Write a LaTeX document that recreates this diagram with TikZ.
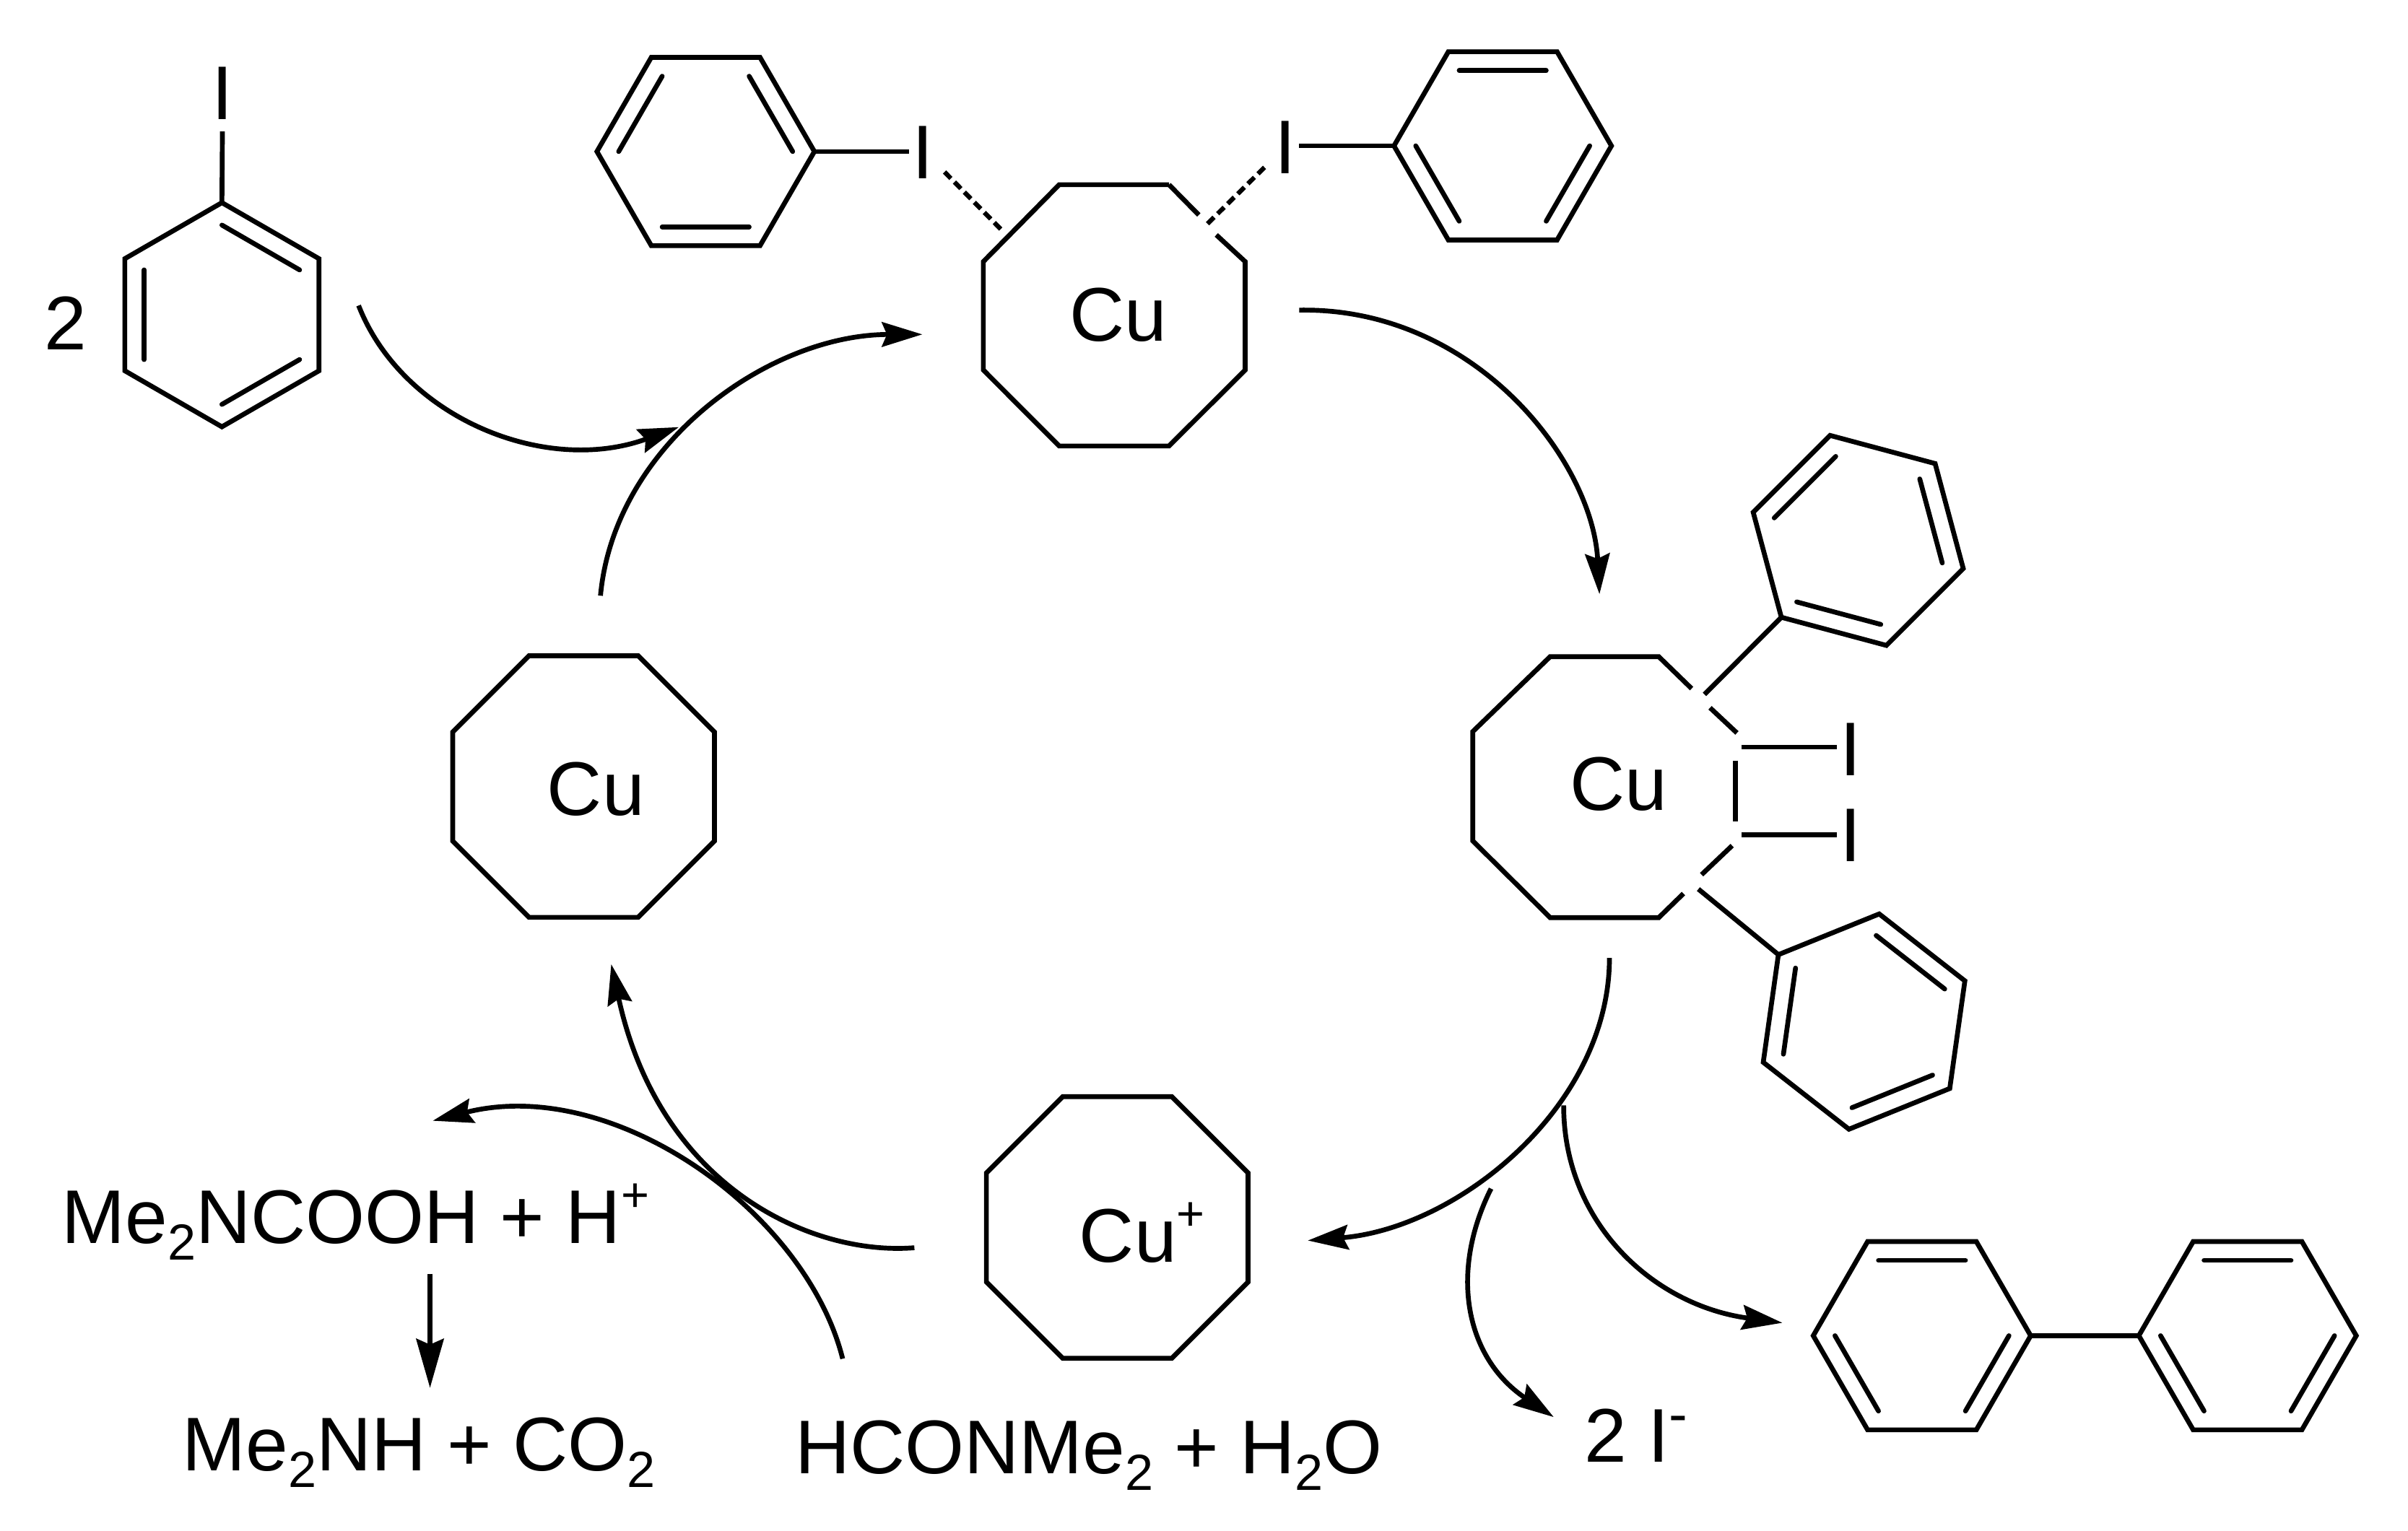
\documentclass[tikz,border=0pt]{standalone}
\usepackage{fontspec}
\setmainfont{Liberation Sans}
\usetikzlibrary{calc, arrows.meta}

\tikzset{
	bond/.style = {line width = 1.9pt, line join = miter},
	hidden/.style = {line width = 1.8pt, dash pattern = on 3.6pt off 2pt},
	flow/.style = {line width = 1.9pt, -{Stealth[length = 0.56cm, width = 0.34cm, inset = 0.07cm]}},
	chem/.style = {inner sep = 0pt, font = \fontsize{30}{36}\selectfont},
	iod/.style = {chem, inner sep = 1pt},
}

\begin{document}
\begin{tikzpicture}[x = 0.02127cm, y = -0.02127cm]
	\def\Rb{70.8};
	\def\lowtwo{\raisebox{-6.5pt}{\fontsize{20}{20}\selectfont 2}}
	\def\upchg#1{\raisebox{12.5pt}{\fontsize{19}{19}\selectfont #1}}
	\def\benzene#1#2#3{
		\draw [bond] ($(#1)+(#2:\Rb)$) coordinate (#1-1)
			-- ($(#1)+(#2+60:\Rb)$) coordinate (#1-2)
			-- ($(#1)+(#2+120:\Rb)$) coordinate (#1-3)
			-- ($(#1)+(#2+180:\Rb)$) coordinate (#1-4)
			-- ($(#1)+(#2+240:\Rb)$) coordinate (#1-5)
			-- ($(#1)+(#2+300:\Rb)$) coordinate (#1-6)
			-- cycle;
		\foreach \a in {#3}
			\draw [bond, line cap = round] ($(#1)+(\a:0.8*\Rb)$) -- ($(#1)+(\a+60:0.8*\Rb)$);
	}
	\def\octagon#1{
		\draw [bond] ($(#1)+(-35.5,-85.2)$) -- ($(#1)+(35.5,-85.2)$) -- ($(#1)+(85.2,-35.5)$)
			-- ($(#1)+(85.2,35.5)$) -- ($(#1)+(35.5,85.2)$) -- ($(#1)+(-35.5,85.2)$)
			-- ($(#1)+(-85.2,35.5)$) -- ($(#1)+(-85.2,-35.5)$) -- cycle;
	}

	\useasboundingbox (0,0) rectangle (1568,997.2);

	\coordinate (phA) at (144.5,205);
	\coordinate (phB) at (459.5,98.7);
	\coordinate (phC) at (978.5,95);
	\coordinate (phD) at (1210,352);
	\coordinate (phE) at (1213.8,665.4);
	\coordinate (phF) at (1251.5,870);
	\coordinate (phG) at (1463.5,870);
	\coordinate (octL) at (380,512.3);
	\coordinate (octB) at (727.5,799.5);

	\def\Rb{73};
	\benzene{phA}{30}{30,150,270}
	\def\Rb{70.8};
	\benzene{phB}{0}{60,180,300}
	\benzene{phC}{0}{0,120,240}
	\benzene{phD}{15}{75,195,315}
	\benzene{phE}{-22}{38,158,278}
	\benzene{phF}{0}{0,120,240}
	\benzene{phG}{0}{0,120,240}
	\octagon{octL}
	\octagon{octB}

	\draw [bond] (761.2,120.3) -- (689.7,120.3) -- (640.3,170.4) -- (640.3,241) -- (689.7,290.5)
		-- (761.2,290.5) -- (810.8,241) -- (810.8,170.4) -- (792,153);
	\draw [bond] (761.2,120.3) -- (780.6,140);
	\draw [bond] (1101.5,448.5) -- (1080.1,427.7) -- (1009.4,427.7) -- (959,476.5) -- (959,547.7)
		-- (1009.4,597.7) -- (1080.1,597.7) -- (1096.2,582);
	\draw [bond] (1113.5,461) -- (1131,477.4);
	\draw [bond] (1130,495.4) -- (1130,535);
	\draw [bond] (1127.9,550.8) -- (1108,569.7);

	\node [iod, anchor = base] (iA) at (145,78) {I};
	\node [iod, anchor = base] (iB) at (601,116.5) {I};
	\node [iod, anchor = base] (iC) at (837,113.3) {I};
	\node [iod, anchor = base] (iD) at (1205,505) {I};
	\node [iod, anchor = base] (iE) at (1205,561) {I};

	\coordinate (hdB) at (615,112);
	\coordinate (hdBe) at (652.4,150);
	\coordinate (hdC) at (823.4,109);
	\coordinate (hdCe) at (786,146);
	\coordinate (bdD) at (1109.9,452.3);
	\coordinate (bdE) at (1105.9,579.1);
	\coordinate (bdI) at (1134,486.6);
	\coordinate (bdJ) at (1134,543.6);

	\draw [bond, shorten > = 0.12cm] (phA-5) -- (iA);
	\draw [bond] (phB-1) -- (phB-1 -| iB.west);
	\draw [bond] (phC-4) -- (phC-4 -| iC.east);
	\draw [hidden] (hdB) -- (hdBe);
	\draw [hidden] (hdC) -- (hdCe);
	\draw [bond] (bdD) -- (phD-3);
	\draw [bond] (bdE) -- (phE-5);
	\draw [bond] (bdI) -- (bdI -| iD.west);
	\draw [bond] (bdJ) -- (bdJ -| iE.west);
	\draw [bond] (phF-1) -- (phG-4);

	\node [chem, anchor = base west] (two) at (28.5,228) {2};
	\node [chem, anchor = base west] (cuT) at (696,222) {Cu};
	\node [chem, anchor = base west] (cuL) at (356,531) {Cu};
	\node [chem, anchor = base west] (cuR) at (1022,527.6) {Cu};
	\node [chem, anchor = base west] (cuB) at (702.5,822) {Cu\upchg{+}};
	\node [chem, anchor = base west] (acid) at (40,810) {Me\lowtwo NCOOH + H\upchg{+}};
	\node [chem, anchor = base west] (amine) at (118.5,958) {Me\lowtwo NH + CO\lowtwo};
	\node [chem, anchor = base west] (dmf) at (517.5,960) {HCONMe\lowtwo{} + H\lowtwo O};
	\node [chem, anchor = base west] (iodide) at (1031.5,952.5) {2 I\raisebox{11.6pt}{\fontsize{22}{22}\selectfont -}};

	\coordinate (fwA) at (233.5,199);
	\coordinate (fwAe) at (442,278.2);
	\coordinate (fwB) at (391,388);
	\coordinate (fwBe) at (600.6,217.8);
	\coordinate (fwC) at (846,202);
	\coordinate (fwCe) at (1041.5,387);
	\coordinate (fwD) at (1048,624);
	\coordinate (fwDe) at (851.6,808);
	\coordinate (fwE) at (1018.2,720);
	\coordinate (fwEe) at (1160.6,861.6);
	\coordinate (fwF) at (970.9,774.2);
	\coordinate (fwFe) at (1011.7,923);
	\coordinate (fwG) at (595.4,812.7);
	\coordinate (fwGe) at (398,628);
	\coordinate (fwH) at (548.7,885);
	\coordinate (fwHe) at (281.8,730);
	\coordinate (fwI) at (280,829.6);
	\coordinate (fwIe) at (280,904);

	\draw [flow] (fwA) .. controls (262,272) and (355,310) .. (fwAe);
	\draw [flow] (fwB) .. controls (400,290) and (500,218) .. (fwBe);
	\draw [flow] (fwC) .. controls (960,200) and (1037,300) .. (fwCe);
	\draw [flow] (fwD) .. controls (1048,720) and (950,800) .. (fwDe);
	\draw [flow] (fwE) .. controls (1018,795) and (1075,850) .. (fwEe);
	\draw [flow] (fwF) .. controls (943,830) and (955,885) .. (fwFe);
	\draw [flow] (fwG) .. controls (530,818) and (430,775) .. (fwGe);
	\draw [flow] (fwH) .. controls (525,790) and (400,700) .. (fwHe);
	\draw [line width = 1.9pt, -{Stealth[length = 0.68cm, width = 0.38cm, inset = 0.08cm]}] (fwI) -- (fwIe);
\end{tikzpicture}
\end{document}
